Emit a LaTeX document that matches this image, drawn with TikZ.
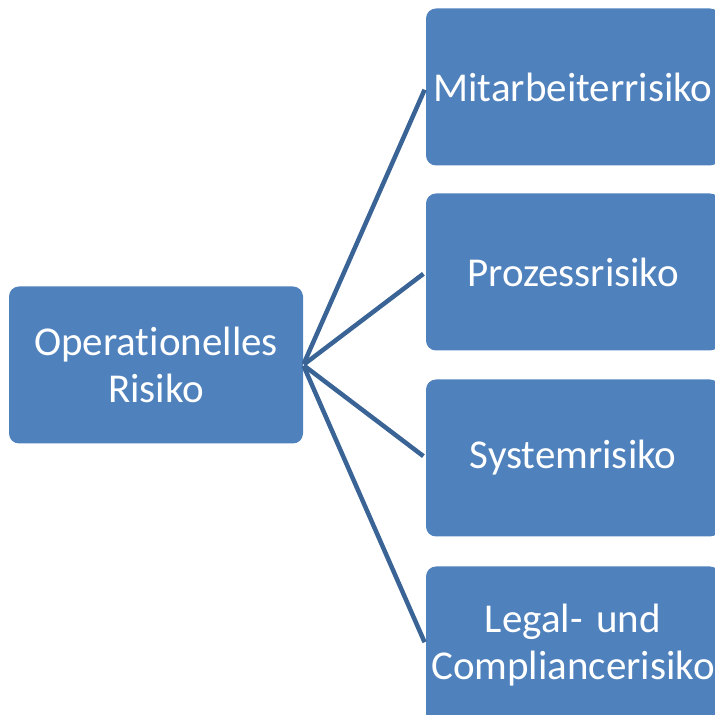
\documentclass[tikz,border=0pt]{standalone}
\usepackage{fontspec}
\setmainfont{Carlito}[RawFeature=-liga]
\definecolor{boxblue}{HTML}{4F81BD}
\definecolor{lineblue}{HTML}{3B6496}
\begin{document}
\begin{tikzpicture}[x=1pt,y=1pt,
  riskbox/.style={rounded corners=10pt, fill=boxblue, draw=none, text=white,
    align=center, text width=294pt, minimum height=157pt, inner sep=0pt,
    font=\fontsize{41}{47}\selectfont},
  link/.style={draw=lineblue, line width=4.5pt, shorten <=1pt, shorten >=3pt}]
\useasboundingbox (0,0) rectangle (715,715);
\clip (0,0) rectangle (715,715);
\node[riskbox] (op) at (156,350) {Operationelles\\Risiko};
\node[riskbox] (m) at (573,628) {Mitarbeiterrisiko};
\node[riskbox] (p) at (573,443) {Prozessrisiko};
\node[riskbox] (s) at (573,257) {Systemrisiko};
\node[riskbox] (l) at (573,70) {Legal-~und\\Compliancerisiko};
\foreach \t in {m,p,s,l} \draw[link] (op.east) -- (\t.west);
\end{tikzpicture}
\end{document}
